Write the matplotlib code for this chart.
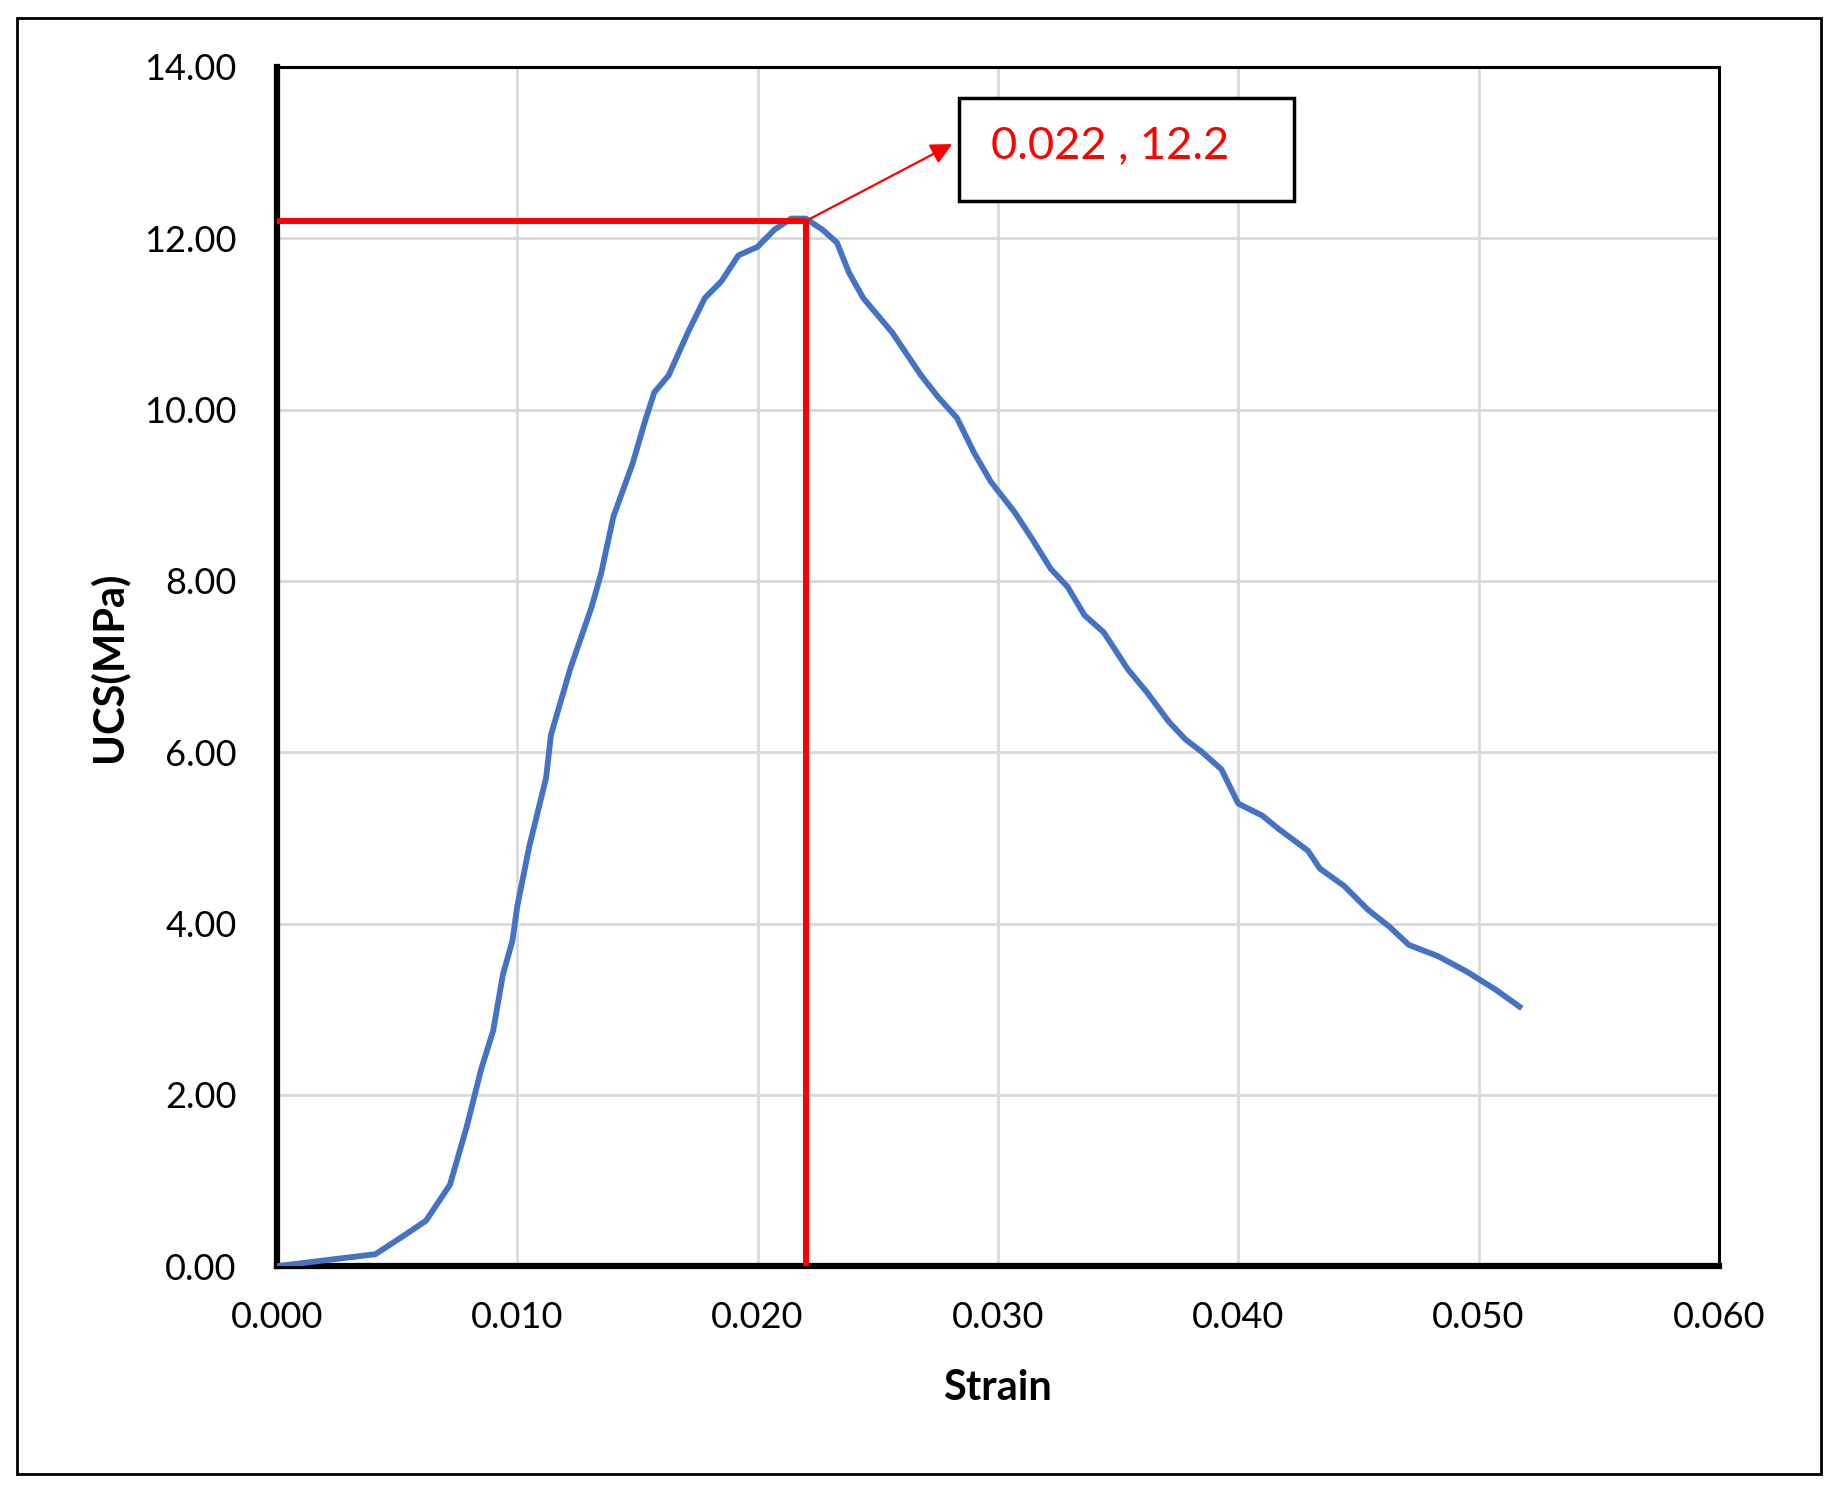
import numpy as np
import matplotlib
matplotlib.use("Agg")
import matplotlib.pyplot as plt
from matplotlib.patches import Rectangle

plt.rcParams['font.family'] = ['Lato', 'DejaVu Sans']

# stress-strain curve
strain = [0.0000, 0.0041, 0.0053, 0.0062, 0.0072, 0.0079, 0.0085, 0.0090, 0.0094, 0.0098,
          0.0100, 0.0105, 0.0112, 0.0114, 0.0122, 0.0131, 0.0135, 0.0140, 0.0148, 0.0153,
          0.0157, 0.0163, 0.0171, 0.0178, 0.0185, 0.0192, 0.0200, 0.0207, 0.0214, 0.0220,
          0.0227, 0.0233, 0.0238, 0.0244, 0.0256, 0.0268, 0.0275, 0.0283, 0.0290, 0.0297,
          0.0307, 0.0314, 0.0322, 0.0329, 0.0336, 0.0344, 0.0354, 0.0362, 0.0371, 0.0378,
          0.0385, 0.0393, 0.0400, 0.0410, 0.0417, 0.0429, 0.0434, 0.0444, 0.0454, 0.0463,
          0.0471, 0.0483, 0.0495, 0.0507, 0.0517]
ucs = [0.00, 0.14, 0.36, 0.53, 0.95, 1.63, 2.30, 2.75, 3.40, 3.80,
       4.20, 4.90, 5.70, 6.20, 6.97, 7.70, 8.10, 8.75, 9.37, 9.85,
       10.20, 10.40, 10.90, 11.30, 11.50, 11.80, 11.90, 12.10, 12.23, 12.23,
       12.10, 11.95, 11.60, 11.30, 10.90, 10.40, 10.15, 9.90, 9.50, 9.16,
       8.80, 8.50, 8.14, 7.93, 7.60, 7.40, 6.97, 6.70, 6.36, 6.15,
       6.00, 5.80, 5.40, 5.26, 5.10, 4.85, 4.64, 4.44, 4.16, 3.96,
       3.75, 3.62, 3.44, 3.23, 3.03]

peak_strain = 0.022
peak_ucs = 12.2
peak_label = "0.022 , 12.2"

x_ticks = [0.000, 0.010, 0.020, 0.030, 0.040, 0.050, 0.060]
y_ticks = [0, 2, 4, 6, 8, 10, 12, 14]

fig = plt.figure(figsize=(18.4, 14.94), dpi=100)
ax = fig.add_axes([0.1505, 0.1525, 0.7837, 0.8027])

# outer frame
fig.patches.append(Rectangle((0.0092, 0.0135), 0.9805, 0.9745, transform=fig.transFigure,
                             fill=False, edgecolor='black', linewidth=2))

ax.plot(strain, ucs, color='#4472C4', linewidth=4.2, zorder=3)

# peak marker lines
ax.plot([0, peak_strain], [peak_ucs, peak_ucs], color='#FF0000', linewidth=4.3,
        solid_capstyle='butt', zorder=4)
ax.plot([peak_strain, peak_strain], [0, peak_ucs], color='#FF0000', linewidth=4.3,
        solid_capstyle='butt', zorder=4)

ax.annotate('', xy=(0.0281, 13.1), xytext=(peak_strain, peak_ucs),
            arrowprops=dict(arrowstyle='-|>', color='#FF0000', lw=1.6,
                            mutation_scale=32, shrinkA=0, shrinkB=0), zorder=5)
ax.add_patch(Rectangle((0.0284, 12.44), 0.0139, 1.20, fill=True, facecolor='white',
                       edgecolor='black', linewidth=2.5, clip_on=False, zorder=5))
ax.text(0.0297, 13.07, peak_label, color='#FF0000', fontsize=32.5, va='center', ha='left',
        zorder=6)

ax.set_xlim(0, 0.06)
ax.set_ylim(0, 14)
ax.set_xticks(x_ticks)
ax.set_yticks(y_ticks)
ax.set_xticklabels(['%.3f' % v for v in x_ticks])
ax.set_yticklabels(['%.2f' % v for v in y_ticks])
ax.tick_params(length=0, labelsize=26)
ax.tick_params(axis='x', pad=25)
ax.tick_params(axis='y', pad=29)

ax.grid(True, color='#d9d9d9', linewidth=2)
ax.set_axisbelow(True)

for s in ['left', 'bottom']:
    ax.spines[s].set_linewidth(4.5)
for s in ['top', 'right']:
    ax.spines[s].set_linewidth(2.2)

ax.set_xlabel('Strain', fontsize=30, fontweight='bold')
ax.set_ylabel('UCS(MPa)', fontsize=30, fontweight='bold')
ax.xaxis.set_label_coords(0.5, -0.1017)
ax.xaxis.label.set_va('center')
ax.yaxis.set_label_coords(-0.117, 0.5)
ax.yaxis.label.set_va('center')

fig.savefig('out.png', dpi=100)
